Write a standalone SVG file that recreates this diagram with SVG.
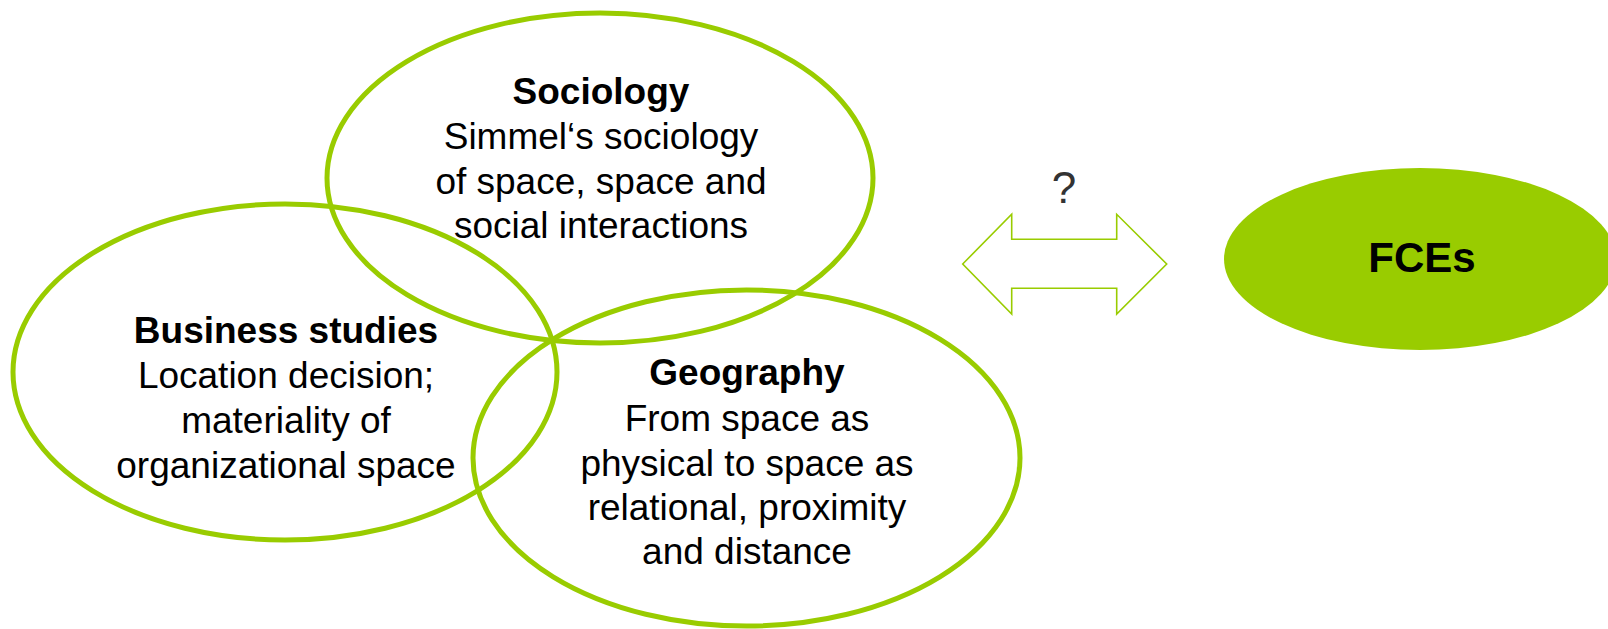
<svg xmlns="http://www.w3.org/2000/svg" width="1608" height="629" viewBox="0 0 1608 629">
<style>
.ring{fill:none;stroke:#99CC00;stroke-width:5}
.t{font-family:"Liberation Sans",Arial,sans-serif;font-size:37px;fill:#000;text-anchor:middle}
.b{font-weight:bold}
</style>
<rect width="1608" height="629" fill="#fff"/>
<g id="business">
<ellipse class="ring" cx="285" cy="372" rx="272" ry="168"/>
<text class="t" x="286" y="343"><tspan class="b">Business studies</tspan><tspan x="286" y="388">Location decision;</tspan><tspan x="286" y="433">materiality of</tspan><tspan x="286" y="478">organizational space</tspan></text>
</g>
<g id="geography">
<ellipse class="ring" cx="746.5" cy="458" rx="273.5" ry="168"/>
<text class="t" x="747" y="385"><tspan class="b">Geography</tspan><tspan x="747" y="431">From space as</tspan><tspan x="747" y="476">physical to space as</tspan><tspan x="747" y="520">relational, proximity</tspan><tspan x="747" y="564">and distance</tspan></text>
</g>
<g id="sociology">
<ellipse class="ring" cx="600" cy="178" rx="273" ry="165"/>
<text class="t" x="601" y="104"><tspan class="b">Sociology</tspan><tspan x="601" y="149">Simmel‘s sociology</tspan><tspan x="601" y="194">of space, space and</tspan><tspan x="601" y="238">social interactions</tspan></text>
</g>
<g id="connectors">
<polygon points="962.7,264 1011.7,214.3 1011.7,239.3 1116.7,239.3 1116.7,214.3 1166.7,264 1116.7,314 1116.7,288.3 1011.7,288.3 1011.7,314" fill="#fff" stroke="#99CC00" stroke-width="1.6"/>
<text x="1064" y="203" font-family="'Liberation Sans',Arial,sans-serif" font-size="44" fill="#333" text-anchor="middle">?</text>
</g>
<g id="fces">
<ellipse cx="1420" cy="259" rx="196" ry="91" fill="#99CC00"/>
<text class="t b" x="1422" y="272" style="font-size:42px">FCEs</text>
</g>
</svg>
